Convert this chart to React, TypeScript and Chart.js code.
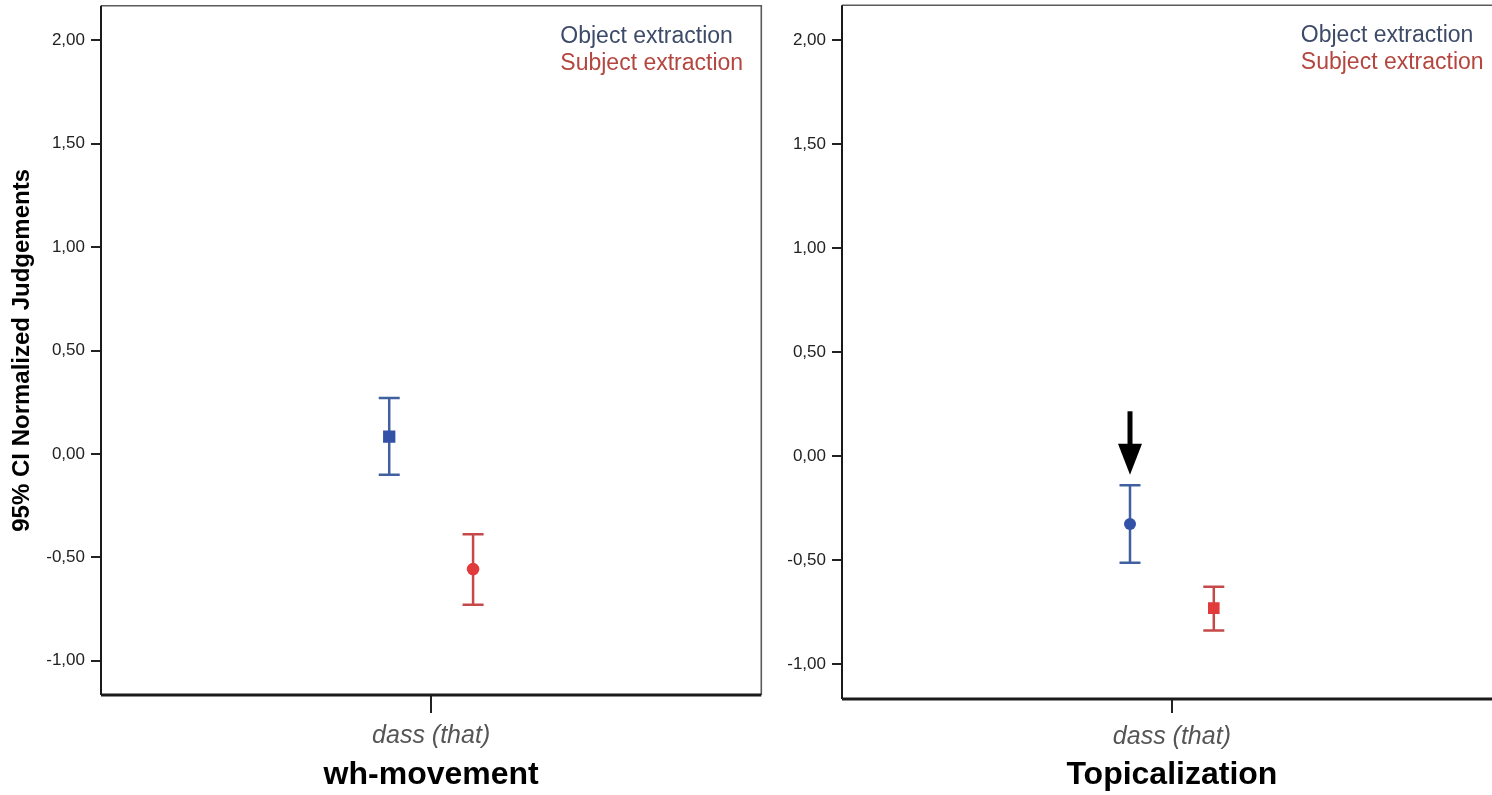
import React, { useEffect, useRef } from 'react';
import { Chart, registerables } from 'chart.js';

Chart.register(...registerables);

// ---------- data ----------
const categories = ['dass (that)'];
const seriesNames = ['Object extraction', 'Subject extraction'];
const panelTitles = ['wh-movement', 'Topicalization'];
const yAxisTitle = '95% CI Normalized Judgements';
const yTickValues = [-1, -0.5, 0, 0.5, 1, 1.5, 2];

// wh-movement panel: [Object, Subject]
const whMean = [0.084, -0.557];
const whLower = [-0.101, -0.73];
const whUpper = [0.27, -0.388];

// Topicalization panel: [Object, Subject]
const topMean = [-0.327, -0.731];
const topLower = [-0.513, -0.839];
const topUpper = [-0.141, -0.628];

// arrow in Topicalization panel (value range it spans)
const arrowFrom = 0.215;
const arrowTo = -0.09;

// ---------- styles ----------
const FONT = "'Liberation Sans', Arial, Helvetica, sans-serif";
const BLUE_LINE = '#41609f';
const BLUE_MARK = '#3451a8';
const RED_LINE = '#c6494a';
const RED_MARK = '#e13a3a';
const LEGEND_COLORS = ['#3d4b69', '#b4463f'];
const GROUP_OFFSET = 0.127;
const CANVAS_SHIFT = 3;

const fmt = (v: number) => v.toFixed(2).replace('.', ',').replace(/^-0,00$/, '0,00');

const errorBarPlugin = {
  id: 'errorBars',
  beforeDatasetsDraw(chart: any) {
    const { ctx } = chart;
    const x = chart.scales.x;
    const y = chart.scales.y;
    chart.data.datasets.forEach((ds: any) => {
      ds.data.forEach((pt: any, i: number) => {
        const px = x.getPixelForValue(pt.x);
        const yl = y.getPixelForValue(ds.lower[i]);
        const yh = y.getPixelForValue(ds.upper[i]);
        ctx.save();
        ctx.strokeStyle = ds.errorColor;
        ctx.lineWidth = 2.5;
        ctx.beginPath();
        ctx.moveTo(px, yl);
        ctx.lineTo(px, yh);
        ctx.moveTo(px - 10.5, yl);
        ctx.lineTo(px + 10.5, yl);
        ctx.moveTo(px - 10.5, yh);
        ctx.lineTo(px + 10.5, yh);
        ctx.stroke();
        ctx.restore();
      });
    });
  },
};

const framePlugin = {
  id: 'frame',
  afterDraw(chart: any) {
    const { ctx, chartArea: a } = chart;
    ctx.save();
    ctx.strokeStyle = '#5a5a5a';
    ctx.lineWidth = 1.6;
    ctx.beginPath();
    ctx.moveTo(a.left, a.top);
    ctx.lineTo(a.right, a.top);
    ctx.lineTo(a.right, a.bottom);
    ctx.stroke();
    ctx.strokeStyle = '#1a1a1a';
    ctx.lineWidth = 2;
    ctx.beginPath();
    ctx.moveTo(a.left, a.top);
    ctx.lineTo(a.left, a.bottom);
    ctx.stroke();
    ctx.lineWidth = 3;
    ctx.beginPath();
    ctx.moveTo(a.left, a.bottom);
    ctx.lineTo(a.right, a.bottom);
    ctx.stroke();
    ctx.restore();
  },
};

const legendTextPlugin = {
  id: 'legendText',
  afterDraw(chart: any) {
    const { ctx, chartArea: a } = chart;
    ctx.save();
    ctx.font = `23px ${FONT}`;
    ctx.textAlign = 'left';
    ctx.textBaseline = 'alphabetic';
    chart.data.datasets.forEach((ds: any, i: number) => {
      ctx.fillStyle = LEGEND_COLORS[i];
      ctx.fillText(ds.label, a.right - 201, a.top + 37 + i * 27);
    });
    ctx.restore();
  },
};

const arrowPlugin = {
  id: 'arrow',
  afterDatasetsDraw(chart: any, _args: any, opts: any) {
    if (!opts || !opts.show) return;
    const { ctx } = chart;
    const x = chart.scales.x.getPixelForValue(opts.x);
    const y0 = chart.scales.y.getPixelForValue(opts.from);
    const y1 = chart.scales.y.getPixelForValue(opts.to);
    const headLen = 31;
    const headHalf = 12;
    ctx.save();
    ctx.strokeStyle = '#000';
    ctx.fillStyle = '#000';
    ctx.lineWidth = 5;
    ctx.beginPath();
    ctx.moveTo(x, y0);
    ctx.lineTo(x, y1 - headLen + 2);
    ctx.stroke();
    ctx.beginPath();
    ctx.moveTo(x - headHalf, y1 - headLen);
    ctx.lineTo(x + headHalf, y1 - headLen);
    ctx.lineTo(x, y1);
    ctx.closePath();
    ctx.fill();
    ctx.restore();
  },
};

type PanelProps = {
  left: number;
  width: number;
  title: string;
  mean: number[];
  lower: number[];
  upper: number[];
  styles: string[];
  radii: number[];
  yMin: number;
  yMax: number;
  yAxisWidth: number;
  xAxisHeight: number;
  showYTitle: boolean;
  tickLen: number;
  tickPad: number;
  yTickPad: number;
  arrow: boolean;
};

function Panel(p: PanelProps) {
  const ref = useRef<HTMLCanvasElement | null>(null);
  const h = 795 + CANVAS_SHIFT;
  useEffect(() => {
    if (!ref.current) return;
    const offsets = [-GROUP_OFFSET, GROUP_OFFSET];
    const lineColors = [BLUE_LINE, RED_LINE];
    const markColors = [BLUE_MARK, RED_MARK];
    const chart = new Chart(ref.current, {
      type: 'scatter',
      data: {
        datasets: seriesNames.map((name, i) => ({
          label: name,
          data: [{ x: offsets[i], y: p.mean[i] }],
          lower: [p.lower[i]],
          upper: [p.upper[i]],
          errorColor: lineColors[i],
          pointStyle: p.styles[i],
          pointRadius: p.radii[i],
          backgroundColor: markColors[i],
          borderColor: markColors[i],
          borderWidth: 0,
        })) as any,
      },
      options: {
        animation: false,
        responsive: false,
        devicePixelRatio: 1,
        events: [],
        layout: { padding: { top: 3, right: 8, left: 0, bottom: 0 } },
        plugins: {
          legend: { display: false },
          tooltip: { enabled: false },
          arrow: { show: p.arrow, x: -GROUP_OFFSET, from: arrowFrom, to: arrowTo },
        } as any,
        scales: {
          x: {
            type: 'linear',
            min: -1,
            max: 1,
            afterBuildTicks: (s: any) => {
              s.ticks = [{ value: 0 }];
            },
            afterFit: (s: any) => {
              s.height = p.xAxisHeight;
              s.paddingLeft = 0;
              s.paddingRight = 0;
            },
            ticks: {
              callback: () => categories[0],
              font: { family: FONT, size: 25, style: 'italic' },
              color: '#555555',
              padding: p.tickPad,
              maxRotation: 0,
            },
            grid: {
              display: true,
              drawOnChartArea: false,
              drawTicks: true,
              tickLength: p.tickLen,
              color: '#222222',
              lineWidth: 2,
            },
            border: { display: false },
            title: {
              display: true,
              text: p.title,
              font: { family: FONT, size: 32, weight: 'bold' },
              color: '#000000',
              padding: { top: 0, bottom: 1 },
            },
          },
          y: {
            type: 'linear',
            min: p.yMin,
            max: p.yMax,
            afterBuildTicks: (s: any) => {
              s.ticks = yTickValues.map((v) => ({ value: v }));
            },
            afterFit: (s: any) => {
              s.width = p.yAxisWidth;
              s.paddingTop = 0;
              s.paddingBottom = 0;
            },
            ticks: {
              callback: (v: any) => fmt(Number(v)),
              font: { family: FONT, size: 17 },
              color: '#222222',
              padding: p.yTickPad,
            },
            grid: {
              display: true,
              drawOnChartArea: false,
              drawTicks: true,
              tickLength: 10,
              color: '#222222',
              lineWidth: 2,
            },
            border: { display: false },
            title: {
              display: p.showYTitle,
              text: yAxisTitle,
              font: { family: FONT, size: 24, weight: 'bold' },
              color: '#000000',
              padding: { top: 8, bottom: 0 },
            },
          },
        },
      } as any,
      plugins: [errorBarPlugin, framePlugin, legendTextPlugin, arrowPlugin],
    });
    return () => chart.destroy();
  }, []);
  return (
    <canvas
      ref={ref}
      width={p.width}
      height={h}
      style={{ position: 'absolute', left: p.left, top: -CANVAS_SHIFT, width: p.width, height: h }}
    />
  );
}

export default function App() {
  return (
    <div
      style={{
        position: 'fixed',
        left: 0,
        top: 0,
        width: 1492,
        height: 795,
        overflow: 'hidden',
        background: '#ffffff',
      }}
    >
      <Panel
        left={0}
        width={770}
        title={panelTitles[0]}
        mean={whMean}
        lower={whLower}
        upper={whUpper}
        styles={['rect', 'circle']}
        radii={[8.7, 6.3]}
        yMin={-1.166}
        yMax={2.168}
        yAxisWidth={101}
        xAxisHeight={100}
        showYTitle={true}
        tickLen={18}
        tickPad={8}
        yTickPad={6}
        arrow={false}
      />
      <Panel
        left={770}
        width={740}
        title={panelTitles[1]}
        mean={topMean}
        lower={topLower}
        upper={topUpper}
        styles={['circle', 'rect']}
        radii={[6, 8.2]}
        yMin={-1.168}
        yMax={2.167}
        yAxisWidth={72}
        xAxisHeight={96}
        showYTitle={false}
        tickLen={14}
        tickPad={9}
        yTickPad={6}
        arrow={true}
      />
    </div>
  );
}
